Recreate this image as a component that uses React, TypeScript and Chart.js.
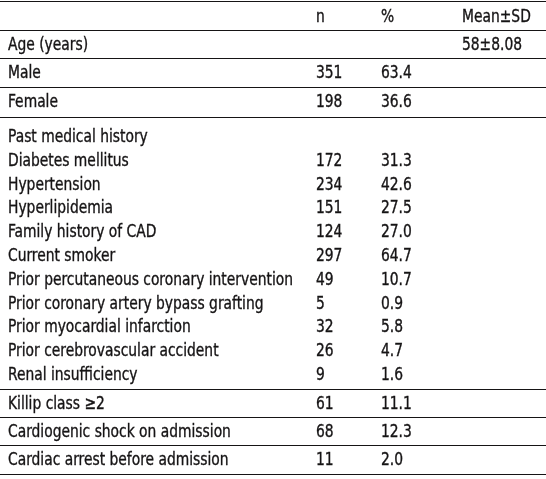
import React, { useEffect, useRef } from "react";
import { Chart, registerables } from "chart.js";

Chart.register(...registerables);

// ---- Data ----
const columnHeaders = ["", "n", "%", "Mean±SD"];
const rowLabels = [
  "Age (years)",
  "Male",
  "Female",
  "Past medical history",
  "Diabetes mellitus",
  "Hypertension",
  "Hyperlipidemia",
  "Family history of CAD",
  "Current smoker",
  "Prior percutaneous coronary intervention",
  "Prior coronary artery bypass grafting",
  "Prior myocardial infarction",
  "Prior cerebrovascular accident",
  "Renal insufficiency",
  "Killip class ≥2",
  "Cardiogenic shock on admission",
  "Cardiac arrest before admission",
];
const nValues = ["", "351", "198", "", "172", "234", "151", "124", "297", "49", "5", "32", "26", "9", "61", "68", "11"];
const pctValues = ["", "63.4", "36.6", "", "31.3", "42.6", "27.5", "27.0", "64.7", "10.7", "0.9", "5.8", "4.7", "1.6", "11.1", "12.3", "2.0"];
const meanValues = ["58±8.08", "", "", "", "", "", "", "", "", "", "", "", "", "", "", "", ""];
// group index of each row (rows in the same group share one ruled cell)
const rowGroups = [1, 2, 3, 4, 4, 4, 4, 4, 4, 4, 4, 4, 4, 4, 5, 6, 7];

// ---- Layout (positions in chart units = pixels) ----
const W = 546;
const H = 479;
const ruleY = [1, 30, 58, 87, 117, 389, 417, 445, 474];
const colX = [8, 316, 381, 462];
const FONT = "18px 'DejaVu Sans Condensed', 'DejaVu Sans', sans-serif";
const SQUEEZE = 0.855;
const TEXT = "#161415";

function rowBaselines(): number[] {
  const out: number[] = [];
  const seen: Record<number, number> = {};
  rowGroups.forEach((g) => {
    const k = seen[g] ?? 0;
    seen[g] = k + 1;
    const top = ruleY[g];
    out.push(k === 0 && g !== 4 ? top + 20 : top + 25 + k * 23.8);
  });
  return out;
}

function drawText(ctx: CanvasRenderingContext2D, t: string, x: number, y: number) {
  ctx.save();
  ctx.translate(x, y);
  ctx.scale(SQUEEZE, 1);
  ctx.fillText(t, 0, 0);
  ctx.lineWidth = 0.35;
  ctx.strokeText(t, 0, 0);
  ctx.restore();
}

const tablePlugin = {
  id: "tablePlugin",
  beforeDraw(chart: any) {
    const ctx = chart.ctx as CanvasRenderingContext2D;
    const xs = chart.scales.x;
    const ys = chart.scales.y;
    ctx.save();
    ctx.fillStyle = "#ffffff";
    ctx.fillRect(0, 0, chart.width, chart.height);
    // rules
    ctx.strokeStyle = TEXT;
    ctx.lineWidth = 1;
    ruleY.forEach((v) => {
      const py = Math.round(ys.getPixelForValue(v)) + 0.5;
      ctx.beginPath();
      ctx.moveTo(xs.getPixelForValue(0), py);
      ctx.lineTo(xs.getPixelForValue(W), py);
      ctx.stroke();
    });
    // text
    ctx.fillStyle = TEXT;
    ctx.strokeStyle = TEXT;
    ctx.font = FONT;
    ctx.textBaseline = "alphabetic";
    ctx.textAlign = "left";
    const headerY = ys.getPixelForValue(ruleY[0] + 21);
    columnHeaders.forEach((h, c) => {
      if (h) drawText(ctx, h, xs.getPixelForValue(colX[c]), headerY);
    });
    const bl = rowBaselines();
    const cols = [rowLabels, nValues, pctValues, meanValues];
    rowLabels.forEach((_, r) => {
      const py = ys.getPixelForValue(bl[r]);
      cols.forEach((col, c) => {
        const t = col[r];
        if (t) drawText(ctx, t, xs.getPixelForValue(colX[c]), py);
      });
    });
    ctx.restore();
  },
};

export default function App() {
  const ref = useRef<HTMLCanvasElement | null>(null);
  useEffect(() => {
    document.body.style.margin = "0";
    const canvas = ref.current!;
    const chart = new Chart(canvas, {
      type: "scatter",
      data: { datasets: [{ data: [], pointRadius: 0 }] },
      options: {
        animation: false,
        responsive: false,
        devicePixelRatio: 1,
        layout: { padding: 0 },
        plugins: { legend: { display: false }, tooltip: { enabled: false } },
        scales: {
          x: { type: "linear", min: 0, max: W, display: false },
          y: { type: "linear", min: 0, max: H, reverse: true, display: false },
        },
      },
      plugins: [tablePlugin],
    });
    return () => chart.destroy();
  }, []);
  return (
    <div style={{ width: W, height: H }}>
      <canvas ref={ref} width={W} height={H} style={{ display: "block" }} />
    </div>
  );
}
